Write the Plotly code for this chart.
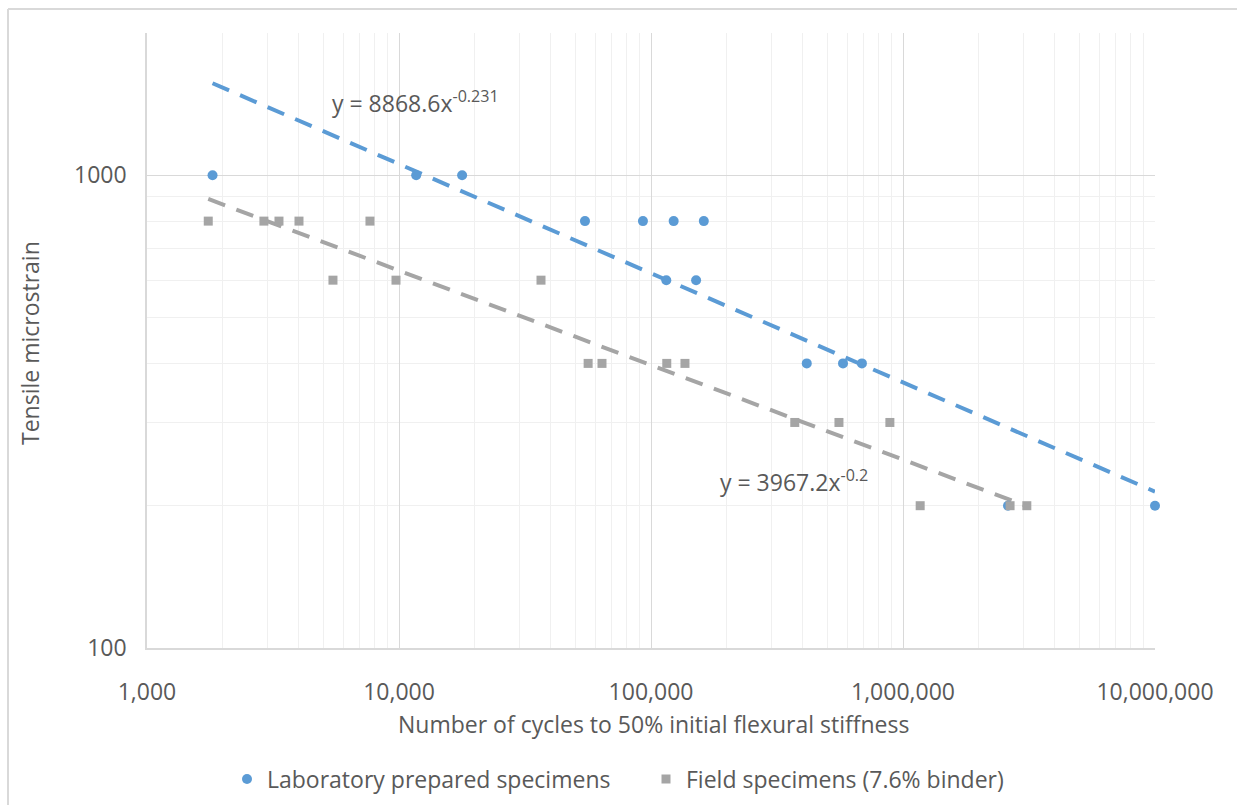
import numpy as np
import plotly.graph_objects as go

# Fatigue test results: cycles to 50% of initial flexural stiffness vs tensile microstrain
lab_cycles = [1820, 11700, 17800, 54700, 92900, 123000, 162000, 115000, 151000,
              415000, 578000, 687000, 2610000, 10000000]
lab_strain = [1000, 1000, 1000, 800, 800, 800, 800, 600, 600,
              400, 400, 400, 200, 200]

field_cycles = [1750, 2910, 3340, 4010, 7670, 5470, 9730, 36600, 56300, 63900,
                115500, 136400, 372000, 557000, 887000, 1170000, 2660000, 3100000]
field_strain = [800, 800, 800, 800, 800, 600, 600, 600, 400, 400,
                400, 400, 300, 300, 300, 200, 200, 200]

# Power-law trendlines y = a * x^b
lab_fit = (8868.6, -0.231)
field_fit = (3967.2, -0.2)

x_tick_vals = [1e3, 1e4, 1e5, 1e6, 1e7]
x_tick_text = ["1,000", "10,000", "100,000", "1,000,000", "10,000,000"]
y_tick_vals = [100, 1000]
y_tick_text = ["100", "1000"]

BLUE = "#5B9BD5"
GREY = "#A5A5A5"
TEXT = "#595959"
FONT = "Open Sans"
FS = 23

def trend(xs, fit):
    xx = np.logspace(np.log10(min(xs)), np.log10(max(xs)), 200)
    return xx, fit[0] * xx ** fit[1]

fig = go.Figure()

tx, ty = trend(lab_cycles, lab_fit)
fig.add_trace(go.Scatter(x=tx, y=ty, mode="lines", showlegend=False, hoverinfo="skip",
                         line=dict(color=BLUE, width=4, dash="18px,12px")))
tx, ty = trend(field_cycles, field_fit)
fig.add_trace(go.Scatter(x=tx, y=ty, mode="lines", showlegend=False, hoverinfo="skip",
                         line=dict(color=GREY, width=4, dash="18px,12px")))

fig.add_trace(go.Scatter(x=lab_cycles, y=lab_strain, mode="markers",
                         name="Laboratory prepared specimens", cliponaxis=False,
                         marker=dict(symbol="circle", size=10, color=BLUE)))
fig.add_trace(go.Scatter(x=field_cycles, y=field_strain, mode="markers",
                         name="Field specimens (7.6% binder)", cliponaxis=False,
                         marker=dict(symbol="square", size=9, color=GREY)))

x_minor = [m * 10 ** d for d in range(3, 7) for m in range(2, 10)]
y_minor = [m * 100 for m in range(2, 10)] + [2000]

fig.update_xaxes(type="log", range=[3, 7], tickvals=x_tick_vals, ticktext=x_tick_text,
                 showgrid=True, gridcolor="#D9D9D9", gridwidth=1,
                 showline=True, linecolor="#D9D9D9", linewidth=1.5,
                 ticks="", ticklabelstandoff=23,
                 tickfont=dict(family=FONT, size=FS, color=TEXT),
                 minor=dict(tickvals=x_minor, showgrid=True, gridcolor="#F0F0F0", gridwidth=1),
                 zeroline=False)
fig.update_yaxes(type="log", range=[2, np.log10(2000)], tickvals=y_tick_vals, ticktext=y_tick_text,
                 showgrid=True, gridcolor="#D9D9D9", gridwidth=1,
                 showline=True, linecolor="#D9D9D9", linewidth=1.5,
                 ticks="", ticklabelstandoff=14,
                 tickfont=dict(family=FONT, size=FS, color=TEXT),
                 minor=dict(tickvals=y_minor, showgrid=True, gridcolor="#F0F0F0", gridwidth=1),
                 zeroline=False)

WIDTH, HEIGHT = 1237, 805
L, T, W, H = 147, 33, 1008, 615

def px(xp, yp):
    return (xp - L) / W, (T + H - yp) / H

annotations = []
ax, ay = px(330, 102)
annotations.append(dict(xref="paper", yref="paper", x=ax, y=ay, xanchor="left", yanchor="middle",
                        text="y = 8868.6x<sup>-0.231</sup>", showarrow=False,
                        font=dict(family=FONT, size=FS, color=TEXT)))
ax, ay = px(718, 481)
annotations.append(dict(xref="paper", yref="paper", x=ax, y=ay, xanchor="left", yanchor="middle",
                        text="y = 3967.2x<sup>-0.2</sup>", showarrow=False,
                        font=dict(family=FONT, size=FS, color=TEXT)))
ax, ay = px(653, 724)
annotations.append(dict(xref="paper", yref="paper", x=ax, y=ay, xanchor="center", yanchor="middle",
                        text="Number of cycles to 50% initial flexural stiffness", showarrow=False,
                        font=dict(family=FONT, size=FS, color=TEXT)))
ax, ay = px(30, 343)
annotations.append(dict(xref="paper", yref="paper", x=ax, y=ay, xanchor="center", yanchor="middle",
                        text="Tensile microstrain", showarrow=False, textangle=-90,
                        font=dict(family=FONT, size=FS, color=TEXT)))

# Chart frame: top and left edges of the chart border
x_left, y_top = px(8, 9)
x_far, y_far = px(WIDTH, HEIGHT)
shapes = [
    dict(type="line", xref="paper", yref="paper", x0=x_left, y0=y_top, x1=x_far, y1=y_top,
         line=dict(color="#D9D9D9", width=2), layer="below"),
    dict(type="line", xref="paper", yref="paper", x0=x_left, y0=y_top, x1=x_left, y1=y_far,
         line=dict(color="#D9D9D9", width=2), layer="below"),
]

fig.update_layout(
    width=WIDTH, height=HEIGHT,
    margin=dict(l=L, r=WIDTH - L - W, t=T, b=HEIGHT - T - H, autoexpand=False),
    paper_bgcolor="white", plot_bgcolor="white",
    annotations=annotations, shapes=shapes,
    legend=dict(orientation="h", xref="container", yref="container",
                x=227 / WIDTH, y=1 - 779 / HEIGHT, xanchor="left", yanchor="middle",
                font=dict(family=FONT, size=FS, color=TEXT),
                entrywidth=374, entrywidthmode="pixels",
                bgcolor="rgba(0,0,0,0)", tracegroupgap=0),
    showlegend=True,
)

fig.write_html("out.html")
